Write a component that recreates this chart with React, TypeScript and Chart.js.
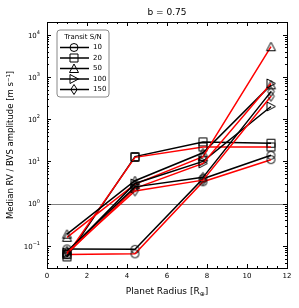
import React, { useEffect, useRef } from 'react';
import { Chart, registerables } from 'chart.js';
Chart.register(...registerables);

// Planet radii (x positions of the grid points)
const radii = [1.0, 4.4, 7.8, 11.2];
// Transit S/N legend entries
const snLabels = ['10', '20', '50', '100', '150'];
// Black series (one per S/N)
const black10 = [0.085, 0.083, 3.9, 14];
const black20 = [0.055, 13, 29, 27];
const black50 = [0.19, 3.5, 16, 650];
const black100 = [0.07, 3.0, 10, 200];
const black150 = [0.075, 2.5, 4.2, 450];
// Red series (one per S/N)
const red10 = [0.063, 0.065, 3.3, 11];
const red20 = [0.062, 12.5, 22, 22];
const red50 = [0.16, 2.9, 13, 5200];
const red100 = [0.065, 2.3, 9, 700];
const red150 = [0.07, 2.0, 3.6, 350];
// Axis tick values
const xMajorTicks = [0, 2, 4, 6, 8, 10, 12];
const yMajorExps = [-1, 0, 1, 2, 3, 4];
const refLine = 1;

const FONT = '"DejaVu Sans", sans-serif';
const markerKinds = ['circle', 'square', 'triangle', 'triright', 'diamond'];

function drawMarker(ctx: CanvasRenderingContext2D, kind: string, x: number, y: number) {
  ctx.beginPath();
  if (kind === 'circle') {
    ctx.arc(x, y, 4, 0, Math.PI * 2);
  } else if (kind === 'square') {
    ctx.rect(x - 4, y - 4, 8, 8);
  } else if (kind === 'triangle') {
    ctx.moveTo(x, y - 4.5);
    ctx.lineTo(x + 4.5, y + 4);
    ctx.lineTo(x - 4.5, y + 4);
    ctx.closePath();
  } else if (kind === 'triright') {
    ctx.moveTo(x + 4.5, y);
    ctx.lineTo(x - 4, y - 4.5);
    ctx.lineTo(x - 4, y + 4.5);
    ctx.closePath();
  } else {
    ctx.moveTo(x, y - 5);
    ctx.lineTo(x + 3.2, y);
    ctx.lineTo(x, y + 5);
    ctx.lineTo(x - 3.2, y);
    ctx.closePath();
  }
  ctx.stroke();
}

function makeMarkerCanvas(kind: string) {
  const c = document.createElement('canvas');
  c.width = 13;
  c.height = 13;
  const g = c.getContext('2d')!;
  g.strokeStyle = '#000';
  g.lineWidth = 1;
  drawMarker(g, kind, 6.5, 6.5);
  return c;
}

function supLabel(ctx: CanvasRenderingContext2D, exp: number, rightX: number, y: number) {
  const es = String(exp).replace('-', '\u2212');
  ctx.font = `5px ${FONT}`;
  const ew = ctx.measureText(es).width;
  ctx.font = `7px ${FONT}`;
  const bw = ctx.measureText('10').width;
  ctx.textAlign = 'left';
  ctx.textBaseline = 'middle';
  ctx.fillText('10', rightX - ew - bw, y + 1);
  ctx.font = `5px ${FONT}`;
  ctx.fillText(es, rightX - ew, y - 2);
}

const decor = {
  id: 'decor',
  beforeDatasetsDraw(chart: any) {
    const { ctx, chartArea: a, scales } = chart;
    const yp = Math.round(scales.y.getPixelForValue(refLine)) + 0.5;
    ctx.save();
    ctx.strokeStyle = '#808080';
    ctx.lineWidth = 1;
    ctx.beginPath();
    ctx.moveTo(a.left, yp);
    ctx.lineTo(a.right, yp);
    ctx.stroke();
    ctx.restore();
  },
  afterDraw(chart: any) {
    const { ctx, chartArea: a, scales } = chart;
    const xs = scales.x;
    const ys = scales.y;
    ctx.save();
    ctx.fillStyle = '#000';
    ctx.strokeStyle = '#000';
    ctx.lineWidth = 1;
    // frame
    ctx.strokeRect(Math.round(a.left) + 0.5, Math.round(a.top) + 0.5, Math.round(a.right - a.left), Math.round(a.bottom - a.top));
    // x ticks
    ctx.beginPath();
    for (let v = xs.min; v <= xs.max + 1e-9; v += 0.5) {
      const px = Math.round(xs.getPixelForValue(v)) + 0.5;
      const major = Math.abs(v / 2 - Math.round(v / 2)) < 1e-9;
      const len = major ? 4 : 2;
      ctx.moveTo(px, a.bottom);
      ctx.lineTo(px, a.bottom - len);
      ctx.moveTo(px, a.top);
      ctx.lineTo(px, a.top + len);
    }
    // y ticks
    for (let e = -2; e <= 4; e++) {
      for (let k = 1; k <= 9; k++) {
        const v = k * Math.pow(10, e);
        if (v < ys.min || v >= ys.max) continue;
        const py = Math.round(ys.getPixelForValue(v)) + 0.5;
        const len = k === 1 ? 4 : 2;
        ctx.moveTo(a.left, py);
        ctx.lineTo(a.left + len, py);
        ctx.moveTo(a.right, py);
        ctx.lineTo(a.right - len, py);
      }
    }
    ctx.stroke();
    // x tick labels
    ctx.font = `7px ${FONT}`;
    ctx.textAlign = 'center';
    ctx.textBaseline = 'top';
    xMajorTicks.forEach((v) => {
      ctx.fillText(String(v), xs.getPixelForValue(v), a.bottom + 5);
    });
    // y tick labels
    yMajorExps.forEach((e) => {
      supLabel(ctx, e, a.left - 7, ys.getPixelForValue(Math.pow(10, e)));
    });
    // title
    const cx = (a.left + a.right) / 2;
    ctx.font = `9px ${FONT}`;
    ctx.textAlign = 'center';
    ctx.textBaseline = 'alphabetic';
    ctx.fillText('b = 0.75', cx, 15);
    // x label with subscript
    const p1 = 'Planet Radius [R';
    const p2 = '\u2295';
    const p3 = ']';
    ctx.font = `9px ${FONT}`;
    const w1 = ctx.measureText(p1).width;
    const w3 = ctx.measureText(p3).width;
    ctx.font = `6px ${FONT}`;
    const w2 = ctx.measureText(p2).width;
    let sx = cx - (w1 + w2 + w3) / 2;
    ctx.textAlign = 'left';
    ctx.font = `9px ${FONT}`;
    ctx.fillText(p1, sx, 294);
    ctx.font = `6px ${FONT}`;
    ctx.fillText(p2, sx + w1, 296);
    ctx.font = `9px ${FONT}`;
    ctx.fillText(p3, sx + w1 + w2, 294);
    // y label
    ctx.save();
    ctx.translate(13, (a.top + a.bottom) / 2);
    ctx.rotate(-Math.PI / 2);
    ctx.textAlign = 'center';
    ctx.font = `8.5px ${FONT}`;
    ctx.fillText('Median RV / BVS amplitude [m s\u207B\u00B9]', 0, 0);
    ctx.restore();
    // legend
    const lx = 57, ly = 30, lw = 52, lh = 67;
    ctx.beginPath();
    const r = 3;
    ctx.moveTo(lx + r, ly);
    ctx.arcTo(lx + lw, ly, lx + lw, ly + lh, r);
    ctx.arcTo(lx + lw, ly + lh, lx, ly + lh, r);
    ctx.arcTo(lx, ly + lh, lx, ly, r);
    ctx.arcTo(lx, ly, lx + lw, ly, r);
    ctx.closePath();
    ctx.fillStyle = '#fff';
    ctx.fill();
    ctx.strokeStyle = '#888';
    ctx.stroke();
    ctx.fillStyle = '#000';
    ctx.font = `7px ${FONT}`;
    ctx.textAlign = 'center';
    ctx.textBaseline = 'middle';
    ctx.fillText('Transit S/N', lx + lw / 2, 37.5);
    snLabels.forEach((lab, i) => {
      const yy = 47.5 + i * 10.5;
      ctx.strokeStyle = '#000';
      ctx.lineWidth = 1.5;
      ctx.beginPath();
      ctx.moveTo(60, yy);
      ctx.lineTo(89, yy);
      ctx.stroke();
      ctx.lineWidth = 1;
      ctx.fillStyle = '#fff';
      drawMarker(ctx, markerKinds[i], 74, yy);
      ctx.fillStyle = '#000';
      ctx.textAlign = 'left';
      ctx.fillText(lab, 93, yy);
    });
    ctx.restore();
  },
};

export default function App() {
  const ref = useRef<HTMLCanvasElement>(null);
  useEffect(() => {
    const blackSeries = [black10, black20, black50, black100, black150];
    const redSeries = [red10, red20, red50, red100, red150];
    const markersImg = markerKinds.map(makeMarkerCanvas);
    const datasets: any[] = [];
    snLabels.forEach((lab, i) => {
      datasets.push({
        label: `S/N ${lab} (black)`,
        data: radii.map((x, j) => ({ x, y: blackSeries[i][j] })),
        borderColor: '#000000',
        borderWidth: 1.5,
        pointStyle: markersImg[i],
        pointRadius: 6,
        showLine: true,
        order: 10 - 2 * i,
      });
      datasets.push({
        label: `S/N ${lab} (red)`,
        data: radii.map((x, j) => ({ x, y: redSeries[i][j] })),
        borderColor: '#ff0000',
        borderWidth: 1.5,
        pointStyle: markersImg[i],
        pointRadius: 6,
        showLine: true,
        order: 9 - 2 * i,
      });
    });
    const chart = new Chart(ref.current!, {
      type: 'scatter',
      data: { datasets },
      options: {
        animation: false,
        responsive: false,
        devicePixelRatio: 1,
        layout: { padding: { left: 47, top: 22, right: 12, bottom: 40 } },
        plugins: { legend: { display: false }, tooltip: { enabled: false } },
        scales: {
          x: { type: 'linear', min: 0, max: 12, display: false },
          y: { type: 'logarithmic', min: 0.03, max: 20000, display: false },
        },
      },
      plugins: [decor],
    });
    return () => chart.destroy();
  }, []);
  return (
    <div style={{ position: 'fixed', left: 0, top: 0, width: 299, height: 308, background: '#fff' }}>
      <canvas ref={ref} width={299} height={308} style={{ width: 299, height: 308 }} />
    </div>
  );
}
